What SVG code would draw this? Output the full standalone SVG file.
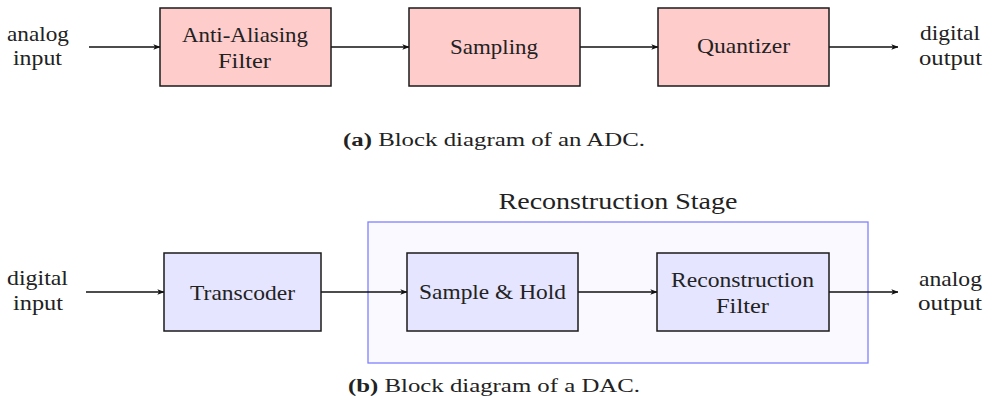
<svg xmlns="http://www.w3.org/2000/svg" width="990" height="399" viewBox="0 0 990 399">
<style>
.red{fill:#ffcccc;stroke:#1a1a1a;stroke-width:1.5;}
.blu{fill:#e5e5ff;stroke:#1a1a1a;stroke-width:1.5;}
.grp{fill:#f9f9ff;stroke:#8080ff;stroke-width:1.3;}
.edge{stroke:#111;stroke-width:1.5;fill:none;marker-end:url(#ah);}
</style>
<defs>
<marker id="ah" viewBox="0 0 10 8" refX="9.5" refY="4" markerWidth="7" markerHeight="5.6" markerUnits="userSpaceOnUse" orient="auto">
<path d="M0,0 L10,4 L0,8 L2.5,4 Z" fill="#111"/>
</marker>
</defs>
<g id="stage-group">
<rect class="grp" x="368" y="222" width="500" height="141"/>
<text x="618" y="209" font-family="Liberation Serif" font-size="23" text-anchor="middle" fill="#222" textLength="239" lengthAdjust="spacingAndGlyphs"><tspan font-family="Liberation Serif">Reconstruction Stage</tspan></text>
</g>
<g id="connectors">
<line class="edge" x1="89" y1="47" x2="160" y2="47"/>
<line class="edge" x1="331" y1="47" x2="409" y2="47"/>
<line class="edge" x1="580" y1="47" x2="658" y2="47"/>
<line class="edge" x1="829" y1="47" x2="898" y2="47"/>
<line class="edge" x1="86" y1="292" x2="164" y2="292"/>
<line class="edge" x1="321" y1="292" x2="407" y2="292"/>
<line class="edge" x1="578" y1="292" x2="657" y2="292"/>
<line class="edge" x1="829" y1="292" x2="898" y2="292"/>
</g>
<g id="analog-input" font-family="Liberation Serif" font-size="21" text-anchor="middle" fill="#222"><text x="38" y="41" textLength="62" lengthAdjust="spacingAndGlyphs"><tspan font-family="Liberation Serif">analog</tspan></text><text x="37.5" y="65" textLength="49" lengthAdjust="spacingAndGlyphs"><tspan font-family="Liberation Serif">input</tspan></text></g>
<g id="anti-aliasing"><rect class="red" x="160" y="8" width="171" height="78"/><g font-family="Liberation Serif" font-size="22" text-anchor="middle" fill="#222"><text x="245" y="42" textLength="126" lengthAdjust="spacingAndGlyphs"><tspan font-family="Liberation Serif">Anti-Aliasing</tspan></text><text x="244.5" y="68" textLength="53" lengthAdjust="spacingAndGlyphs"><tspan font-family="Liberation Serif">Filter</tspan></text></g></g>
<g id="sampling"><rect class="red" x="409" y="8" width="171" height="78"/><text x="494" y="54" font-family="Liberation Serif" font-size="22" text-anchor="middle" fill="#222" textLength="88" lengthAdjust="spacingAndGlyphs"><tspan font-family="Liberation Serif">Sampling</tspan></text></g>
<g id="quantizer"><rect class="red" x="658" y="8" width="171" height="78"/><text x="743.5" y="53" font-family="Liberation Serif" font-size="22" text-anchor="middle" fill="#222" textLength="93" lengthAdjust="spacingAndGlyphs"><tspan font-family="Liberation Serif">Quantizer</tspan></text></g>
<g id="digital-output" font-family="Liberation Serif" font-size="21" text-anchor="middle" fill="#222"><text x="950" y="40" textLength="60" lengthAdjust="spacingAndGlyphs"><tspan font-family="Liberation Serif">digital</tspan></text><text x="950.5" y="65" textLength="63" lengthAdjust="spacingAndGlyphs"><tspan font-family="Liberation Serif">output</tspan></text></g>
<g id="caption-a"><text x="343" y="146" font-family="Liberation Serif" font-size="18.5" fill="#222" textLength="302" lengthAdjust="spacingAndGlyphs"><tspan font-weight="bold">(a)</tspan> Block diagram of an ADC.</text></g>
<g id="digital-input" font-family="Liberation Serif" font-size="21" text-anchor="middle" fill="#222"><text x="37.5" y="285" textLength="61" lengthAdjust="spacingAndGlyphs"><tspan font-family="Liberation Serif">digital</tspan></text><text x="38" y="310" textLength="50" lengthAdjust="spacingAndGlyphs"><tspan font-family="Liberation Serif">input</tspan></text></g>
<g id="transcoder"><rect class="blu" x="164" y="253" width="157" height="78"/><text x="242.5" y="300" font-family="Liberation Serif" font-size="22" text-anchor="middle" fill="#222" textLength="105" lengthAdjust="spacingAndGlyphs"><tspan font-family="Liberation Serif">Transcoder</tspan></text></g>
<g id="sample-hold"><rect class="blu" x="407" y="253" width="171" height="78"/><text x="492.5" y="299" font-family="Liberation Serif" font-size="22" text-anchor="middle" fill="#222" textLength="147" lengthAdjust="spacingAndGlyphs"><tspan font-family="Liberation Serif">Sample &amp; Hold</tspan></text></g>
<g id="reconstruction-filter"><rect class="blu" x="657" y="253" width="172" height="78"/><g font-family="Liberation Serif" font-size="22" text-anchor="middle" fill="#222"><text x="742.5" y="287" textLength="143" lengthAdjust="spacingAndGlyphs"><tspan font-family="Liberation Serif">Reconstruction</tspan></text><text x="742.5" y="313" textLength="53" lengthAdjust="spacingAndGlyphs"><tspan font-family="Liberation Serif">Filter</tspan></text></g></g>
<g id="analog-output" font-family="Liberation Serif" font-size="21" text-anchor="middle" fill="#222"><text x="950.5" y="286" textLength="63" lengthAdjust="spacingAndGlyphs"><tspan font-family="Liberation Serif">analog</tspan></text><text x="950" y="310" textLength="64" lengthAdjust="spacingAndGlyphs"><tspan font-family="Liberation Serif">output</tspan></text></g>
<g id="caption-b"><text x="348" y="392" font-family="Liberation Serif" font-size="18.5" fill="#222" textLength="292" lengthAdjust="spacingAndGlyphs"><tspan font-weight="bold">(b)</tspan> Block diagram of a DAC.</text></g>
</svg>
